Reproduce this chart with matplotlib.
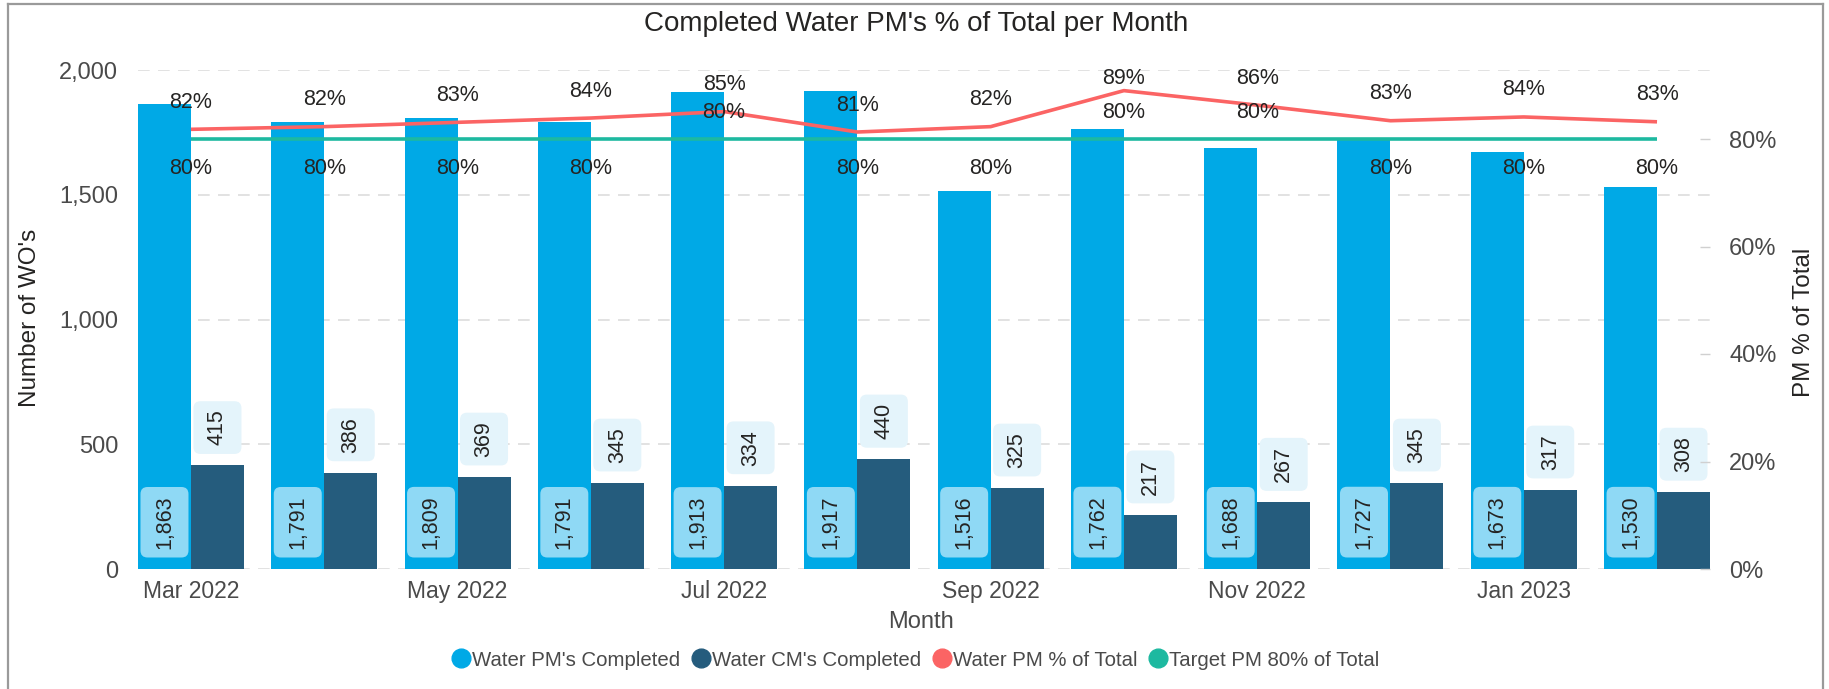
import matplotlib
matplotlib.use("Agg")
import matplotlib.pyplot as plt
from matplotlib.lines import Line2D
from matplotlib.patches import FancyBboxPatch
from matplotlib.transforms import IdentityTransform
import numpy as np

# ---------------- data ----------------
months = ["Mar 2022", "Apr 2022", "May 2022", "Jun 2022", "Jul 2022", "Aug 2022",
          "Sep 2022", "Oct 2022", "Nov 2022", "Dec 2022", "Jan 2023", "Feb 2023"]
pm_completed = [1863, 1791, 1809, 1791, 1913, 1917, 1516, 1762, 1688, 1727, 1673, 1530]
cm_completed = [415, 386, 369, 345, 334, 440, 325, 217, 267, 345, 317, 308]
pm_pct = [0.818, 0.823, 0.831, 0.839, 0.851, 0.813, 0.823, 0.890, 0.863, 0.834, 0.841, 0.832]
target_pct = [0.80] * 12
left_ticks = [0, 500, 1000, 1500, 2000]
right_ticks = [0.0, 0.2, 0.4, 0.6, 0.8]
shown_month_idx = [0, 2, 4, 6, 8, 10]

# ---------------- style ----------------
plt.rcParams['font.family'] = ['Liberation Sans', 'DejaVu Sans']
C_PM = "#00A9E6"
C_CM = "#255C7D"
C_RED = "#FB6464"
C_GREEN = "#1DB9A0"
C_PM_BOX = "#8FD9F5"
C_CM_BOX = "#E4F4FB"
C_TXT = "#252423"
C_TICK = "#4A4A4A"
C_GRID = "#DDDDDD"
target_above = [False, False, False, False, True, False, False, True, True, False, False, False]

W, H, DPI = 1829, 689, 100
fig = plt.figure(figsize=(W / DPI, H / DPI), dpi=DPI)

ax_l, ax_r, ax_t, ax_b = 138, 1710, 70, 569
ax = fig.add_axes([ax_l / W, 1 - ax_b / H, (ax_r - ax_l) / W, (ax_b - ax_t) / H])
ax2 = ax.twinx()

n = len(months)
x = np.arange(n)
bw = 0.3975

ax.bar(x - bw / 2, pm_completed, width=bw, color=C_PM, zorder=2)
ax.bar(x + bw / 2, cm_completed, width=bw, color=C_CM, zorder=2)

ax.set_xlim(-bw, n - 1 + bw)
ax.set_ylim(0, 2000)
ax2.set_ylim(0, 0.8 * (ax_b - ax_t) / (ax_b - 139))

ax.set_yticks(left_ticks)
ax.set_yticklabels([f"{v:,}" for v in left_ticks])
ax.tick_params(axis='y', length=0, pad=14.4, labelsize=17, labelcolor=C_TICK)
ax.set_xticks(shown_month_idx)
ax.set_xticklabels([months[i] for i in shown_month_idx])
ax.tick_params(axis='x', length=0, pad=8, labelsize=16.5, labelcolor=C_TICK)
ax.yaxis.grid(True, color=C_GRID, linestyle=(0, (7, 5)), linewidth=1.2, zorder=0)
ax.set_axisbelow(True)

ax2.set_yticks(right_ticks)
ax2.set_yticklabels([f"{int(round(v * 100))}%" for v in right_ticks])
ax2.tick_params(axis='y', direction='in', length=7, width=1, color="#D0D0D0",
                pad=13.7, labelsize=17, labelcolor=C_TICK)

for a in (ax, ax2):
    for s in a.spines.values():
        s.set_visible(False)

# lines
ax2.plot(x, pm_pct, color=C_RED, lw=2.6, zorder=4, solid_capstyle='butt')
ax2.plot(x, target_pct, color=C_GREEN, lw=2.6, zorder=3, solid_capstyle='butt')

# bar labels
pt = 72 / DPI
renderer = fig.canvas.get_renderer()
box_w = 48
box_pad = 8.5


def boxed_label(xc, yv, text, fc):
    t = ax.annotate(text, xy=(xc, yv), xytext=(0, 20 * pt),
                    textcoords='offset points', rotation=90, ha='center', va='bottom',
                    fontsize=15.5, color=C_TXT, zorder=6, annotation_clip=False)
    bb = t.get_window_extent(renderer)
    cx = ax.transData.transform((xc, yv))[0]
    p = FancyBboxPatch((cx - box_w / 2, bb.y0 - box_pad), box_w, bb.height + 2 * box_pad,
                       boxstyle="round,pad=0,rounding_size=7", fc=fc, ec='none',
                       transform=IdentityTransform(), zorder=5, clip_on=False)
    ax.add_patch(p)


for i in range(n):
    boxed_label(x[i] - bw / 2, 0, f"{pm_completed[i]:,}", C_PM_BOX)
    boxed_label(x[i] + bw / 2, cm_completed[i], f"{cm_completed[i]:,}", C_CM_BOX)

# line labels
top_disp = ax2.bbox.y1
for i in range(n):
    yd = ax2.transData.transform((x[i], pm_pct[i]))[1]
    off = min(27, top_disp - 9 - yd)
    ax2.annotate(f"{int(round(pm_pct[i] * 100))}%", xy=(x[i], pm_pct[i]), xytext=(0, off * pt),
                 textcoords='offset points', ha='center', va='center',
                 fontsize=15.5, color=C_TXT, zorder=6)
    toff = 26 if target_above[i] else -30
    ax2.annotate(f"{int(round(target_pct[i] * 100))}%", xy=(x[i], target_pct[i]), xytext=(0, toff * pt),
                 textcoords='offset points', ha='center', va='center',
                 fontsize=15.5, color=C_TXT, zorder=6)

# titles
fig.text(916 / W, 1 - 24 / H, "Completed Water PM's % of Total per Month",
         ha='center', va='center', fontsize=20, color=C_TXT)
fig.text(30 / W, 1 - 318 / H, "Number of WO's", rotation=90, ha='center', va='center',
         fontsize=17.5, color=C_TXT)
fig.text(1804 / W, 1 - 322 / H, "PM % of Total", rotation=90, ha='center', va='center',
         fontsize=17.5, color=C_TXT)
fig.text(921 / W, 1 - 622 / H, "Month", ha='center', va='center', fontsize=17, color=C_TICK)

# legend
handles = [Line2D([], [], marker='o', ls='none', ms=13.5, color=c, mec=c)
           for c in (C_PM, C_CM, C_RED, C_GREEN)]
labels = ["Water PM's Completed", "Water CM's Completed", "Water PM % of Total", "Target PM 80% of Total"]
fig.legend(handles, labels, loc='center', bbox_to_anchor=(915 / W, 1 - 660 / H), ncol=4,
           frameon=False, fontsize=14.7, handletextpad=0.05, columnspacing=0.5,
           handlelength=1.0, labelcolor=C_TICK)

# frame
fcol = "#9A9A9A"
fig.add_artist(Line2D([8 / W, 8 / W], [0, 1 - 4 / H], color=fcol, lw=1.6))
fig.add_artist(Line2D([8 / W, 1823 / W], [1 - 4 / H, 1 - 4 / H], color=fcol, lw=1.6))
fig.add_artist(Line2D([1823 / W, 1823 / W], [0, 1 - 4 / H], color=fcol, lw=1.6))

fig.savefig("out.png", dpi=DPI)
